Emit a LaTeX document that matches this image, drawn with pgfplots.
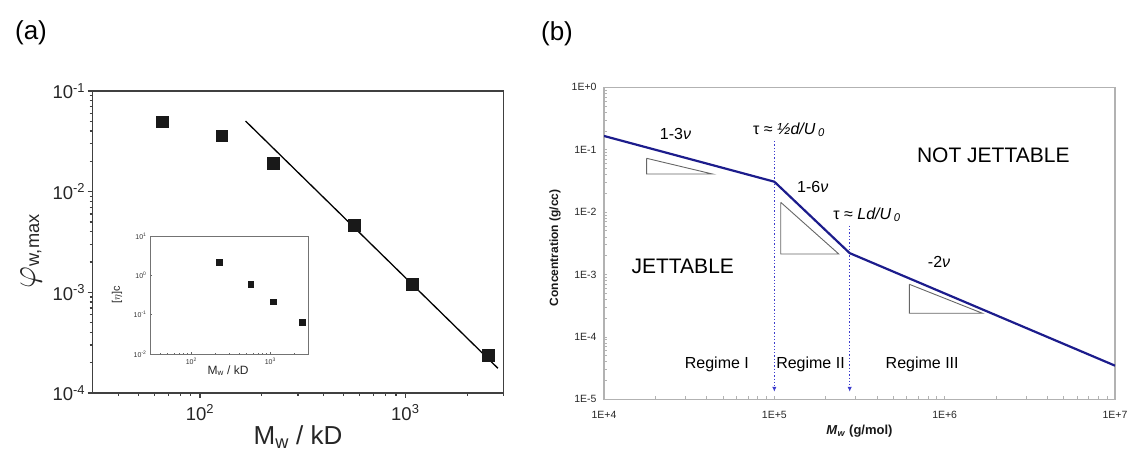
\RequirePackage{fix-cm}
\documentclass[border=0pt]{standalone}
\usepackage{fontspec}
\setmainfont{Liberation Sans}
\usepackage{pgfplots}
\pgfplotsset{compat=1.18}
\usetikzlibrary{arrows.meta}
\definecolor{navy}{RGB}{28,28,140}
\definecolor{dotblue}{RGB}{60,60,205}
\newcommand{\fs}[1]{\fontsize{#1}{#1}\selectfont}
\begin{document}
\begin{tikzpicture}
\useasboundingbox (0,0) rectangle (1128pt,-454pt);
\node[font=\fs{26}] at (31pt,-33pt) {(a)};
\node[font=\fs{26}] at (557pt,-34pt) {(b)};

% ---------------- panel (a) main ----------------
\begin{axis}[
  at={(92.7pt,-393pt)}, anchor=south west, scale only axis,
  width=410.6pt, height=302pt,
  xmode=log, ymode=log, xmin=30, xmax=3000, ymin=1e-4, ymax=1e-1,
  axis line style={line width=1.5pt, black!75},
  tick align=outside, xtick pos=left, ytick pos=left,
  xtick={100,1000}, xticklabels={10\textsuperscript{2},10\textsuperscript{3}},
  ytick={1e-4,1e-3,1e-2,1e-1},
  yticklabels={10\textsuperscript{-4},10\textsuperscript{-3},10\textsuperscript{-2},10\textsuperscript{-1}},
  minor xtick={40,50,60,70,80,90,200,300,400,500,600,700,800,900,2000,3000},
  minor ytick={2e-4,3e-4,4e-4,5e-4,6e-4,7e-4,8e-4,9e-4,2e-3,3e-3,4e-3,5e-3,6e-3,7e-3,8e-3,9e-3,2e-2,3e-2,4e-2,5e-2,6e-2,7e-2,8e-2,9e-2},
  major tick length=5pt, minor tick length=3pt,
  tick style={black!75, line width=1.2pt},
  ticklabel style={font=\fs{18.5}, text=black!85},
  xticklabel style={yshift=-3pt},
  yticklabel style={xshift=1pt},
  xlabel={M\textsubscript{w} / kD},
  xlabel style={font=\fs{26}, text=black!85, at={(axis description cs:0.5,-0.172)}, anchor=base},
  ylabel={{\fs{34}$\varphi$}\textsubscript{w,max}},
  ylabel style={font=\fs{26}, text=black!85, at={(axis description cs:-0.15,0.47)}, anchor=center},
]
\addplot[only marks, mark=square*, mark size=5.8pt, mark options={fill=black!90, draw=black!90, line width=0.4pt}]
  coordinates {(65.3,0.0496)(127.6,0.036)(226.6,0.0191)(564,0.00467)(1077,0.0012)(2535,2.39e-4)};
\addplot[black, line width=1.3pt] coordinates {(166.6,0.0503)(2825,1.76e-4)};
\end{axis}

% ---------------- panel (a) inset ----------------
\begin{axis}[
  at={(150pt,-354pt)}, anchor=south west, scale only axis,
  width=158pt, height=118pt,
  xmode=log, ymode=log, xmin=30, xmax=3000, ymin=1e-2, ymax=10,
  axis line style={line width=0.8pt, black!55},
  tick align=inside, xtick pos=left, ytick pos=left,
  xtick={100,1000}, xticklabels={10\textsuperscript{2},10\textsuperscript{3}},
  ytick={1e-2,1e-1,1,10},
  yticklabels={10\textsuperscript{-2},10\textsuperscript{-1},10\textsuperscript{0},10\textsuperscript{1}},
  minor xtick={40,50,60,70,80,90,200,300,400,500,600,700,800,900,2000,3000},
  minor ytick={2e-2,3e-2,4e-2,5e-2,6e-2,7e-2,8e-2,9e-2,0.2,0.3,0.4,0.5,0.6,0.7,0.8,0.9,2,3,4,5,6,7,8,9},
  major tick length=2.5pt, minor tick length=1.5pt,
  tick style={black!60, line width=0.5pt},
  ticklabel style={font=\fs{7}, text=black!80},
  xlabel={M\textsubscript{w} / kD},
  xlabel style={font=\fs{12}, text=black!85, at={(axis description cs:0.494,-0.17)}, anchor=base},
  ylabel={[$\eta$]c},
  ylabel style={font=\fs{11}, text=black!85, at={(axis description cs:-0.209,0.5)}, anchor=center},
]
\addplot[only marks, mark=square*, mark size=2.9pt, mark options={fill=black!90, draw=black!90, line width=0.3pt}]
  coordinates {(226.6,2.2)(564,0.6)(1077,0.215)(2535,0.066)};
\end{axis}

% ---------------- panel (b) ----------------
\begin{axis}[
  at={(604pt,-399.3pt)}, anchor=south west, scale only axis,
  width=511pt, height=312pt,
  xmode=log, ymode=log, xmin=1e4, xmax=1e7, ymin=1e-5, ymax=1,
  axis line style={line width=1.1pt, black!30},
  tick align=inside, xtick pos=left, ytick pos=left,
  xtick={1e4,1e5,1e6,1e7}, xticklabels={1E+4,1E+5,1E+6,1E+7},
  ytick={1e-5,1e-4,1e-3,1e-2,1e-1,1},
  yticklabels={1E-5,1E-4,1E-3,1E-2,1E-1,1E+0},
  minor xtick={2e4,3e4,4e4,5e4,6e4,7e4,8e4,9e4,2e5,3e5,4e5,5e5,6e5,7e5,8e5,9e5,2e6,3e6,4e6,5e6,6e6,7e6,8e6,9e6},
  major tick length=3pt, minor tick length=3pt,
  tick style={black!30, line width=0.8pt},
  ticklabel style={font=\fs{10.5}, text=black!85},
  xticklabel style={yshift=-8pt},
  yticklabel style={xshift=-4pt},
  xlabel={\textbf{\textit{M}\textsubscript{\textit{w}} (g/mol)}},
  xlabel style={font=\fs{13}, text=black!90, at={(axis description cs:0.5,-0.114)}, anchor=base},
  ylabel={\textbf{Concentration (g/cc)}},
  ylabel style={font=\fs{12}, text=black!90, at={(axis description cs:-0.096,0.485)}, anchor=center},
]
% slope triangles
\addplot[black!60, line width=0.9pt] coordinates {(1.78e4,0.0728)(1.78e4,0.0408)(4.33e4,0.0408)(1.78e4,0.0728)};
\addplot[black!60, line width=0.9pt] coordinates {(1.09e5,0.01436)(1.09e5,0.00213)(2.39e5,0.00213)(1.09e5,0.01436)};
\addplot[black!60, line width=0.9pt] coordinates {(6.2e5,6.97e-4)(6.2e5,2.39e-4)(1.667e6,2.39e-4)(6.2e5,6.97e-4)};
% dotted markers of the time scales
\addplot[dotblue, dotted, line width=1.3pt, -{Latex[length=5pt,width=4.5pt]}] coordinates {(1e5,0.138)(1e5,1.32e-5)};
\addplot[dotblue, dotted, line width=1.3pt, -{Latex[length=5pt,width=4.5pt]}] coordinates {(2.77e5,0.00605)(2.77e5,1.32e-5)};
% boundary line
\addplot[navy, line width=2.2pt] coordinates {(1e4,0.166)(1e5,0.0307)(2.77e5,0.0022)(1e7,3.46e-5)};
% texts
\node[font=\fs{21}] at (axis cs:1.93e6,0.08) {NOT JETTABLE};
\node[font=\fs{21}] at (axis cs:2.9e4,1.33e-3) {JETTABLE};
\node[font=\fs{16}] at (axis cs:2.63e4,0.177) {1-3\textit{ν}};
\node[font=\fs{16}] at (axis cs:1.68e5,0.0255) {1-6\textit{ν}};
\node[font=\fs{16}] at (axis cs:9.27e5,1.57e-3) {-2\textit{ν}};
\node[font=\fs{16}] at (axis cs:1.22e5,0.207) {τ ≈ \textit{½d/U}\,\textsubscript{\textit{0}}};
\node[font=\fs{16}] at (axis cs:3.5e5,0.009) {τ ≈ \textit{Ld/U}\,\textsubscript{\textit{0}}};
\node[font=\fs{16}] at (axis cs:4.6e4,3.63e-5) {Regime I};
\node[font=\fs{16}] at (axis cs:1.63e5,3.63e-5) {Regime II};
\node[font=\fs{16}] at (axis cs:7.38e5,3.63e-5) {Regime III};
\end{axis}
\end{tikzpicture}
\end{document}
